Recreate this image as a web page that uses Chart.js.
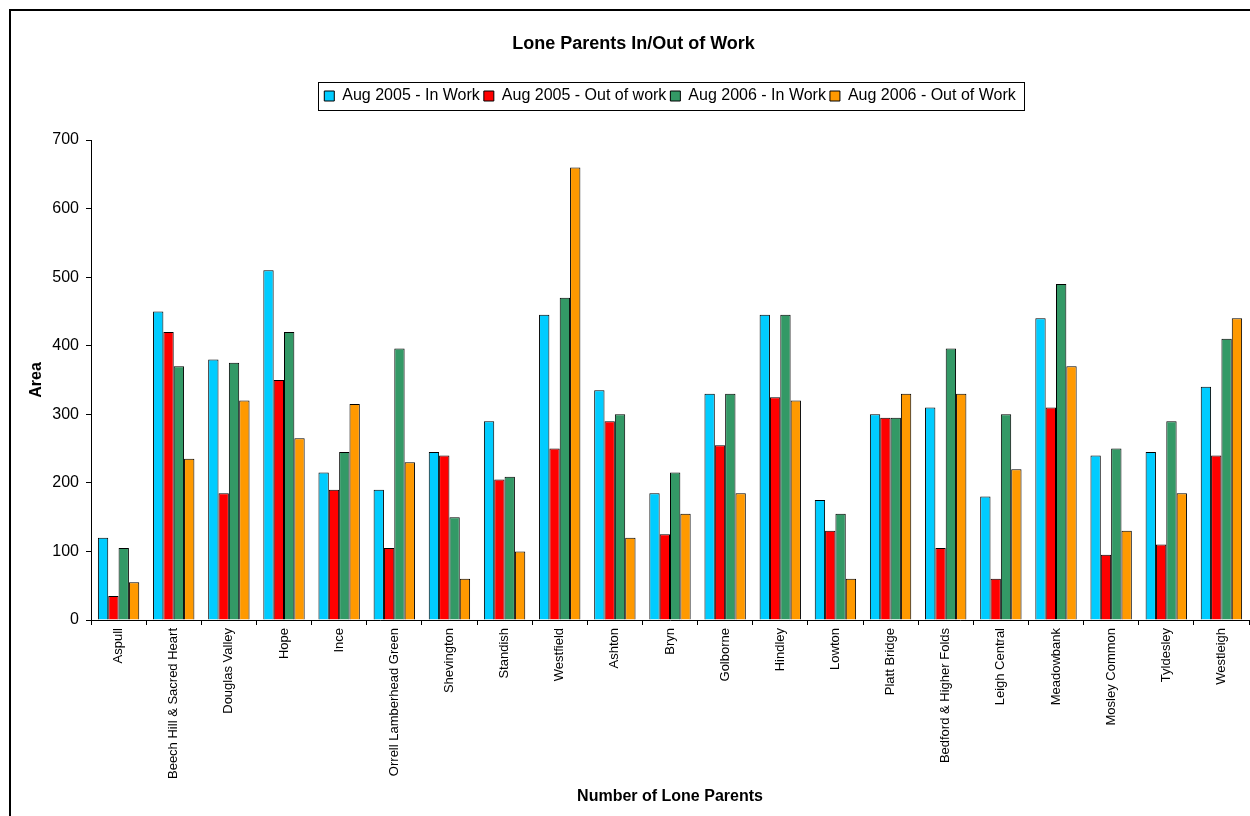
<!DOCTYPE html>
<html>
<head>
<meta charset="utf-8">
<title>Lone Parents In/Out of Work</title>
<script src="https://cdn.jsdelivr.net/npm/chart.js@4/dist/chart.umd.min.js"></script>
<style>
  html, body { margin: 0; padding: 0; background: #ffffff; }
  #wrap { width: 1250px; height: 816px; position: relative; overflow: hidden; }
</style>
</head>
<body>
<div id="wrap"><canvas id="chart" width="1250" height="816"></canvas></div>
<script>
// Ward names along the x axis
const categories = [
  'Aspull', 'Beech Hill & Sacred Heart', 'Douglas Valley', 'Hope', 'Ince',
  'Orrell Lamberhead Green', 'Shevington', 'Standish', 'Westfield', 'Ashton',
  'Bryn', 'Golborne', 'Hindley', 'Lowton', 'Platt Bridge',
  'Bedford & Higher Folds', 'Leigh Central', 'Meadowbank', 'Mosley Common',
  'Tyldesley', 'Westleigh'
];

// Series names
const seriesNames = [
  'Aug 2005 - In Work',
  'Aug 2005 - Out of work',
  'Aug 2006 - In Work',
  'Aug 2006 - Out of Work'
];

// Number of lone parents per ward
const aug2005InWork    = [120, 450, 380, 510, 215, 190, 245, 290, 445, 335, 185, 330, 445, 175, 300, 310, 180, 440, 240, 245, 340];
const aug2005OutOfWork = [ 35, 420, 185, 350, 190, 105, 240, 205, 250, 290, 125, 255, 325, 130, 295, 105,  60, 310,  95, 110, 240];
const aug2006InWork    = [105, 370, 375, 420, 245, 396, 150, 209, 470, 300, 215, 330, 445, 155, 295, 396, 300, 490, 250, 290, 410];
const aug2006OutOfWork = [ 55, 235, 320, 265, 315, 230,  60, 100, 660, 120, 155, 185, 320,  60, 330, 330, 220, 370, 130, 185, 440];

// Value axis range
const yMin = 0;
const yMax = 700;
const yStep = 100;

const FONT = "'Liberation Sans', Arial, Helvetica, sans-serif";
const seriesColors = ['#00CCFF', '#FF0000', '#339966', '#FF9900'];
const seriesValues = [aug2005InWork, aug2005OutOfWork, aug2006InWork, aug2006OutOfWork];

// Outer chart frame and the box around the legend
const framePlugin = {
  id: 'frames',
  afterDraw(chart) {
    const ctx = chart.ctx;
    ctx.save();
    ctx.strokeStyle = '#000000';
    ctx.lineWidth = 2;
    ctx.strokeRect(10, 10, chart.width + 40, chart.height + 40);

    const lg = chart.legend;
    if (lg && lg.legendHitBoxes && lg.legendHitBoxes.length) {
      const boxes = lg.legendHitBoxes;
      const first = boxes[0];
      const last = boxes[boxes.length - 1];
      const pad = lg.options.labels.padding;
      const cy = lg.top + pad + 8;
      const x0 = Math.round(first.left - 6) + 0.5;
      const x1 = Math.round(last.left + last.width + 8) + 0.5;
      ctx.lineWidth = 1;
      ctx.strokeStyle = '#000000';
      ctx.strokeRect(x0, Math.round(cy - 14) + 0.5, x1 - x0, 28);
    }
    ctx.restore();
  }
};

new Chart(document.getElementById('chart'), {
  type: 'bar',
  data: {
    labels: categories,
    datasets: seriesValues.map((vals, i) => ({
      label: seriesNames[i],
      data: vals,
      backgroundColor: seriesColors[i],
      borderColor: '#000000',
      borderWidth: 1,
      borderSkipped: 'bottom',
      barPercentage: 1.0,
      categoryPercentage: 0.75
    }))
  },
  options: {
    responsive: false,
    animation: false,
    devicePixelRatio: 1,
    layout: { padding: { top: 0, left: 18, right: 1, bottom: 0 } },
    plugins: {
      title: {
        display: true,
        text: 'Lone Parents In/Out of Work',
        color: '#000000',
        font: { family: FONT, size: 18, weight: 'bold' },
        padding: { top: 33, bottom: 29.4 }
      },
      legend: {
        display: true,
        position: 'top',
        fullSize: false,
        labels: {
          color: '#000000',
          font: { family: FONT, size: 16 },
          boxWidth: 10,
          boxHeight: 10,
          padding: 4
        }
      },
      subtitle: {
        // empty spacer between legend and plot area
        display: true,
        text: '',
        position: 'top',
        weight: 500,
        font: { family: FONT, size: 26, lineHeight: 1 },
        padding: 0
      },
      tooltip: { enabled: false }
    },
    scales: {
      x: {
        offset: true,
        grid: {
          display: true,
          offset: true,
          drawOnChartArea: false,
          drawTicks: true,
          tickLength: 5,
          color: '#000000'
        },
        border: { display: true, color: '#000000', width: 1 },
        ticks: {
          color: '#000000',
          font: { family: FONT, size: 13 },
          minRotation: 90,
          maxRotation: 90,
          autoSkip: false,
          padding: 3
        },
        title: {
          display: true,
          text: 'Number of Lone Parents',
          color: '#000000',
          font: { family: FONT, size: 16, weight: 'bold' },
          padding: { top: 4, bottom: 10 }
        },
        afterFit(scale) { scale.height = 196; }
      },
      y: {
        min: yMin,
        max: yMax,
        grid: {
          display: true,
          drawOnChartArea: false,
          drawTicks: true,
          tickLength: 5,
          color: '#000000'
        },
        border: { display: true, color: '#000000', width: 1 },
        ticks: {
          stepSize: yStep,
          color: '#000000',
          font: { family: FONT, size: 16 },
          padding: 7
        },
        title: {
          display: true,
          text: 'Area',
          color: '#000000',
          font: { family: FONT, size: 16, weight: 'bold' },
          padding: { top: 9, bottom: 0 }
        },
        afterFit(scale) { scale.width = 73; }
      }
    }
  },
  plugins: [framePlugin]
});
</script>
</body>
</html>
